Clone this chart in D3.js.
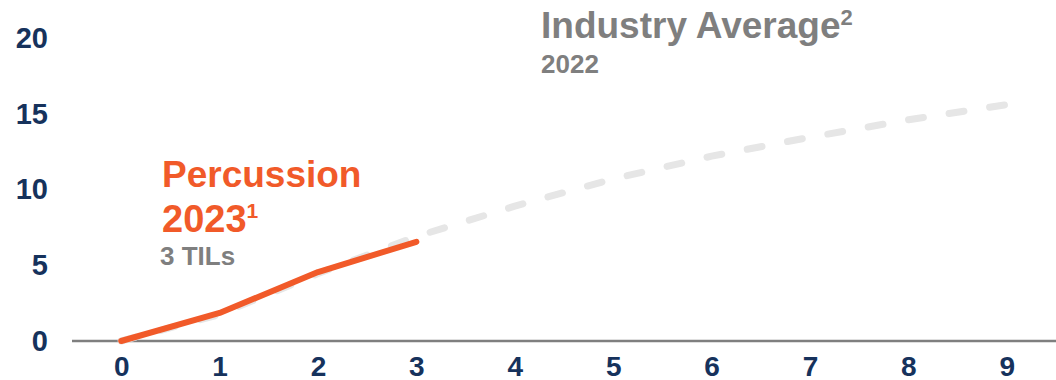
<!DOCTYPE html>
<html>
<head>
<meta charset="utf-8">
<script src="https://cdn.jsdelivr.net/npm/d3@7"></script>
<style>
  body { margin: 0; background: #fff; }
  svg text { font-family: "Liberation Sans", Arial, sans-serif; font-weight: bold; }
</style>
</head>
<body>
<div id="chart"></div>
<script>
// data
var years = [0, 1, 2, 3, 4, 5, 6, 7, 8, 9];
var percussion = [0, 1.85, 4.55, 6.55];
var industry = [0, 1.75, 4.45, 6.9, 8.9, 10.7, 12.2, 13.45, 14.6, 15.6];
var yTicks = [0, 5, 10, 15, 20];

var chart_width = 1056;
var chart_height = 380;
var navy = "#16325c";
var orange = "#f15a29";
var grey = "#7f7f7f";

var svg = d3.select("#chart")
        .append("svg")
        .attr("width", chart_width)
        .attr("height", chart_height);

var x = d3.scalePoint()
        .domain(years)
        .range([72, 1056])
        .padding(0.5);
var y = d3.scaleLinear()
        .domain([0, 20])
        .range([341, 38]);

// y axis, labels only
var yAxis = svg.append("g")
        .attr("transform", "translate(48,0)")
        .call(d3.axisLeft(y).tickValues(yTicks).tickSize(0).tickPadding(0));
yAxis.select(".domain").remove();
yAxis.selectAll("text")
        .attr("fill", navy)
        .style("font-size", "29px");

// x axis
var xAxis = svg.append("g")
        .attr("transform", "translate(0," + y(0) + ")")
        .call(d3.axisBottom(x).tickSize(0).tickPadding(15));
xAxis.select(".domain").remove();
xAxis.selectAll("text")
        .attr("fill", navy)
        .style("font-size", "28px");
svg.append("line")
        .attr("x1", 72)
        .attr("x2", 1056)
        .attr("y1", y(0))
        .attr("y2", y(0))
        .attr("stroke", grey)
        .attr("stroke-width", 2.5);

var line = d3.line()
        .x(function (d, i) { return x(years[i]); })
        .y(function (d) { return y(d); });

// industry average - dashed grey
svg.append("path")
        .datum(industry)
        .attr("d", line)
        .attr("fill", "none")
        .attr("stroke", "#e6e6e6")
        .attr("stroke-width", 7)
        .attr("stroke-linecap", "round")
        .attr("stroke-dasharray", "15,26");

// percussion - orange
svg.append("path")
        .datum(percussion)
        .attr("d", line)
        .attr("fill", "none")
        .attr("stroke", orange)
        .attr("stroke-width", 6)
        .attr("stroke-linecap", "round")
        .attr("stroke-linejoin", "round");

// labels
var ind = svg.append("text")
        .attr("x", 541)
        .attr("y", 38)
        .attr("fill", grey)
        .style("font-size", "37px");
ind.append("tspan").text("Industry Average");
ind.append("tspan").attr("dy", -13).style("font-size", "22px").text("2");
svg.append("text")
        .attr("x", 541)
        .attr("y", 73)
        .attr("fill", grey)
        .style("font-size", "26px")
        .text("2022");

svg.append("text")
        .attr("x", 162)
        .attr("y", 187)
        .attr("fill", orange)
        .style("font-size", "37px")
        .text("Percussion");
var p2 = svg.append("text")
        .attr("x", 162)
        .attr("y", 232)
        .attr("fill", orange)
        .style("font-size", "38px");
p2.append("tspan").text("2023");
p2.append("tspan").attr("dy", -14).style("font-size", "21px").text("1");
svg.append("text")
        .attr("x", 160)
        .attr("y", 265)
        .attr("fill", grey)
        .style("font-size", "26px")
        .text("3 TILs");
</script>
</body>
</html>
